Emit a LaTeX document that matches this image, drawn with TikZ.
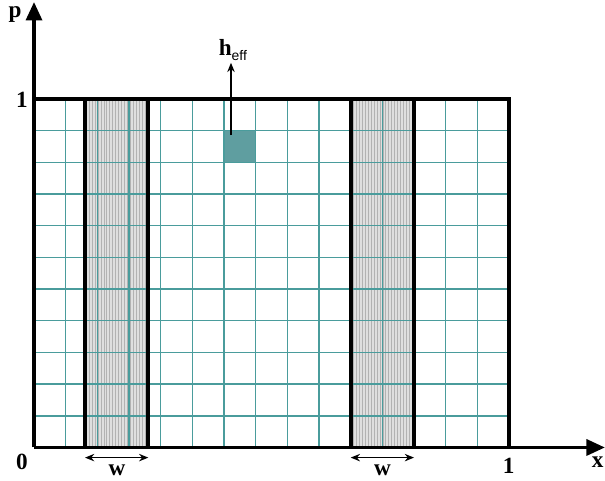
\documentclass[tikz,border=0pt]{standalone}
\usepackage{fontspec}
\setmainfont{Liberation Serif}
\newfontfamily\sansfont{Liberation Sans}
\usetikzlibrary{arrows.meta,patterns.meta}
\definecolor{cadet}{HTML}{5F9EA0}
\definecolor{gridteal}{HTML}{4A9C9C}
\tikzset{
  gridline/.style={draw=gridteal, line width=0.75pt},
  frame/.style={line width=2.1pt},
  axis/.style={line width=2.1pt, -{Triangle[length=10pt,width=8.5pt]}},
  warrow/.style={line width=0.8pt, {Stealth[length=5pt,width=4pt]}-{Stealth[length=5pt,width=4pt]}},
  harrow/.style={line width=0.8pt, -{Stealth[length=5pt,width=4pt]}},
  lbl/.style={font=\fontsize{12.5}{14}\selectfont\bfseries, inner sep=1pt}
}
\begin{document}
\begin{tikzpicture}[x=0.6cm,y=0.6cm]
  \useasboundingbox (-1.074,-1.043) rectangle (18.03,14.13);
  % shaded strips of width w
  \foreach \a in {1.61,10} {
    \fill[gray!25] (\a,0) rectangle ++(2,11);
    \fill[pattern={Lines[angle=90,distance=1.6pt,line width=0.4pt]}, pattern color=gray!60] (\a,0) rectangle ++(2,11);
  }
  % marked cell
  \fill[cadet] (6,9) rectangle (7,10);
  % grid
  \foreach \i in {1,...,14} {\draw[gridline] (\i,0) -- (\i,11);}
  \foreach \j in {1,...,10} {\draw[gridline] (0,\j) -- (15,\j);}
  % borders
  \foreach \a in {1.61,10} {
    \draw[frame] (\a,0) -- ++(0,11);
    \draw[frame] (\a+2,0) -- ++(0,11);
  }
  \draw[frame] (0,11) -- (15,11) -- (15,0);
  \draw[axis] (0,0) -- (18.03,0);
  \draw[axis] (0,0) -- (0,14.07);
  % labels
  \node[lbl] (plab) at (-0.6,13.66) {p};
  \node[lbl] (ytop) at (-0.38,10.97) {1};
  \node[lbl] (zero) at (-0.38,-0.47) {0};
  \node[lbl] (xone) at (14.99,-0.57) {1};
  \node[lbl] (xlab) at (17.8,-0.47) {x};
  \node[lbl] (wa) at (2.62,-0.73) {w};
  \node[lbl] (wb) at (11.0,-0.73) {w};
  \coordinate (wal) at (1.61,-0.32);
  \coordinate (war) at (3.61,-0.32);
  \coordinate (wbl) at (10,-0.32);
  \coordinate (wbr) at (12,-0.32);
  \draw[warrow] (wal) -- (war);
  \draw[warrow] (wbl) -- (wbr);
  % effective field
  \node[lbl] (heff) at (6.28,12.55) {h\raisebox{-0.45ex}{\sansfont\mdseries\fontsize{7.5}{8}\selectfont eff}};
  \coordinate (cellpt) at (6.22,9.86);
  \draw[harrow] (cellpt) -- (cellpt |- heff.south);
\end{tikzpicture}
\end{document}
